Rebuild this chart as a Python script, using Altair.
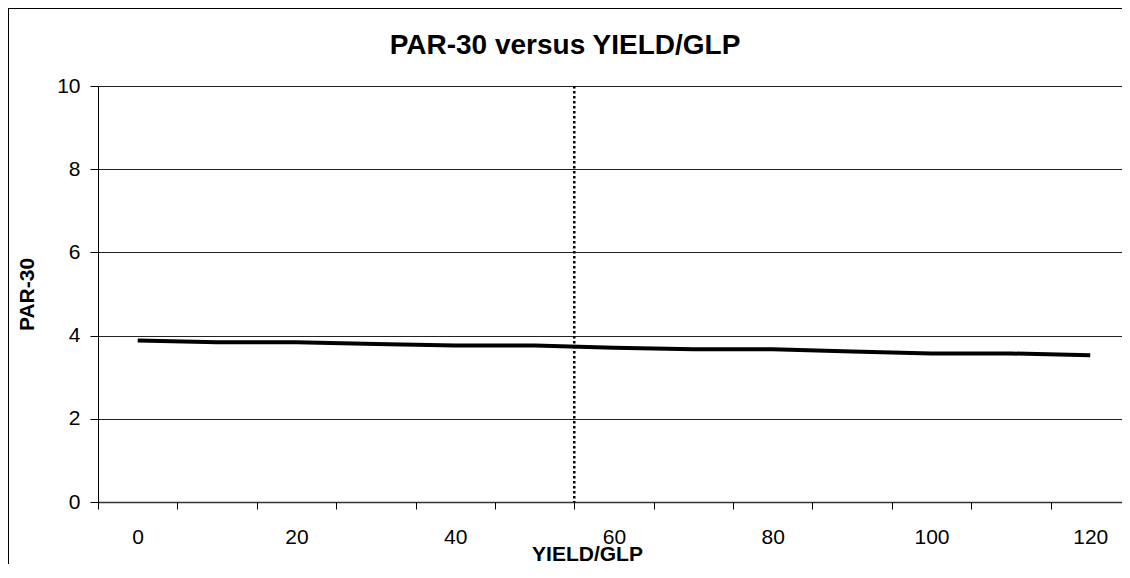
import altair as alt
import pandas as pd

# ---- data ----
yield_glp = [0, 10, 20, 30, 40, 50, 60, 70, 80, 90, 100, 110, 120]
par30 = [3.88, 3.84, 3.84, 3.80, 3.76, 3.76, 3.71, 3.67, 3.67, 3.62, 3.57, 3.57, 3.53]
marker_yield = [55]
x_label_values = [0, 20, 40, 60, 80, 100, 120]
x_tick_values = [-5, 5, 15, 25, 35, 45, 55, 65, 75, 85, 95, 105, 115]
y_tick_values = [0, 2, 4, 6, 8, 10]

FONT = "Liberation Sans"

df = pd.DataFrame({"YIELD/GLP": yield_glp, "PAR-30": par30})
marker_df = pd.DataFrame({"YIELD/GLP": marker_yield})
frame_df = pd.DataFrame({"frame": [0]})

# the reference plot is cropped at its right edge
x_scale = alt.Scale(domain=[-5, 124], nice=False, zero=False)
y_scale = alt.Scale(domain=[0, 10], nice=False, zero=True)

# chart-area border (only its left and top edges are visible in the reference)
frame_left = alt.Chart(frame_df).mark_rect(color="black", strokeWidth=0).encode(
    x=alt.value(-90), x2=alt.value(-89), y=alt.value(-78), y2=alt.value(478)
)
frame_top = alt.Chart(frame_df).mark_rect(color="black", strokeWidth=0).encode(
    x=alt.value(-90), x2=alt.value(1024), y=alt.value(-78), y2=alt.value(-77)
)

line = alt.Chart(df).mark_line(color="black", strokeWidth=4).encode(
    x=alt.X(
        "YIELD/GLP:Q",
        scale=x_scale,
        axis=alt.Axis(
            orient="bottom",
            values=x_label_values,
            ticks=False,
            tickSize=0,
            domain=True,
            domainColor="#333333",
            domainWidth=1.5,
            grid=False,
            labelFont=FONT,
            labelFontSize=21,
            labelColor="black",
            labelBaseline="alphabetic",
            labelPadding=41,
            labelFlush=False,
            labelOverlap=False,
            title="YIELD/GLP",
            titleFont=FONT,
            titleFontSize=21,
            titleFontWeight="bold",
            titleColor="black",
            titleX=489,
            titleY=58,
            titleAlign="center",
            titleBaseline="alphabetic",
        ),
    ),
    y=alt.Y(
        "PAR-30:Q",
        scale=y_scale,
        axis=alt.Axis(
            values=y_tick_values,
            tickSize=8,
            tickColor="black",
            domainColor="black",
            domainWidth=1,
            grid=True,
            gridColor="#222222",
            gridWidth=1,
            labelFont=FONT,
            labelFontSize=21,
            labelColor="black",
            labelPadding=10,
            title="PAR-30",
            titleFont=FONT,
            titleFontSize=21,
            titleFontWeight="bold",
            titleColor="black",
            titleAngle=270,
            titleX=-65,
            titleY=208,
            titleAlign="center",
            titleBaseline="alphabetic",
        ),
    ),
)

rule = alt.Chart(marker_df).mark_rule(
    color="black", strokeWidth=2.5, strokeDash=[2.5, 2.5]
).encode(
    x=alt.X(
        "YIELD/GLP:Q",
        scale=x_scale,
        title=None,
        axis=alt.Axis(
            orient="bottom",
            values=x_tick_values,
            labels=False,
            ticks=True,
            tickSize=7,
            tickColor="black",
            tickWidth=1,
            domain=False,
            grid=False,
        ),
    )
)

chart = (
    alt.layer(frame_left, frame_top, line, rule)
    .resolve_axis(x="independent")
    .properties(
        width=1024,
        height=416,
        autosize="none",
        padding={"left": 90, "top": 78, "right": 0, "bottom": 62},
        title=alt.Title(
            "PAR-30 versus YIELD/GLP",
            font=FONT,
            fontSize=28,
            fontWeight="bold",
            color="black",
            anchor="middle",
            frame="group",
            baseline="alphabetic",
            offset=-47,
            dx=-45,
            dy=27,
        ),
    )
    .configure_view(strokeWidth=0)
    .configure(background="white")
)

chart.save("out.html", embed_options={"renderer": "svg", "actions": False})
